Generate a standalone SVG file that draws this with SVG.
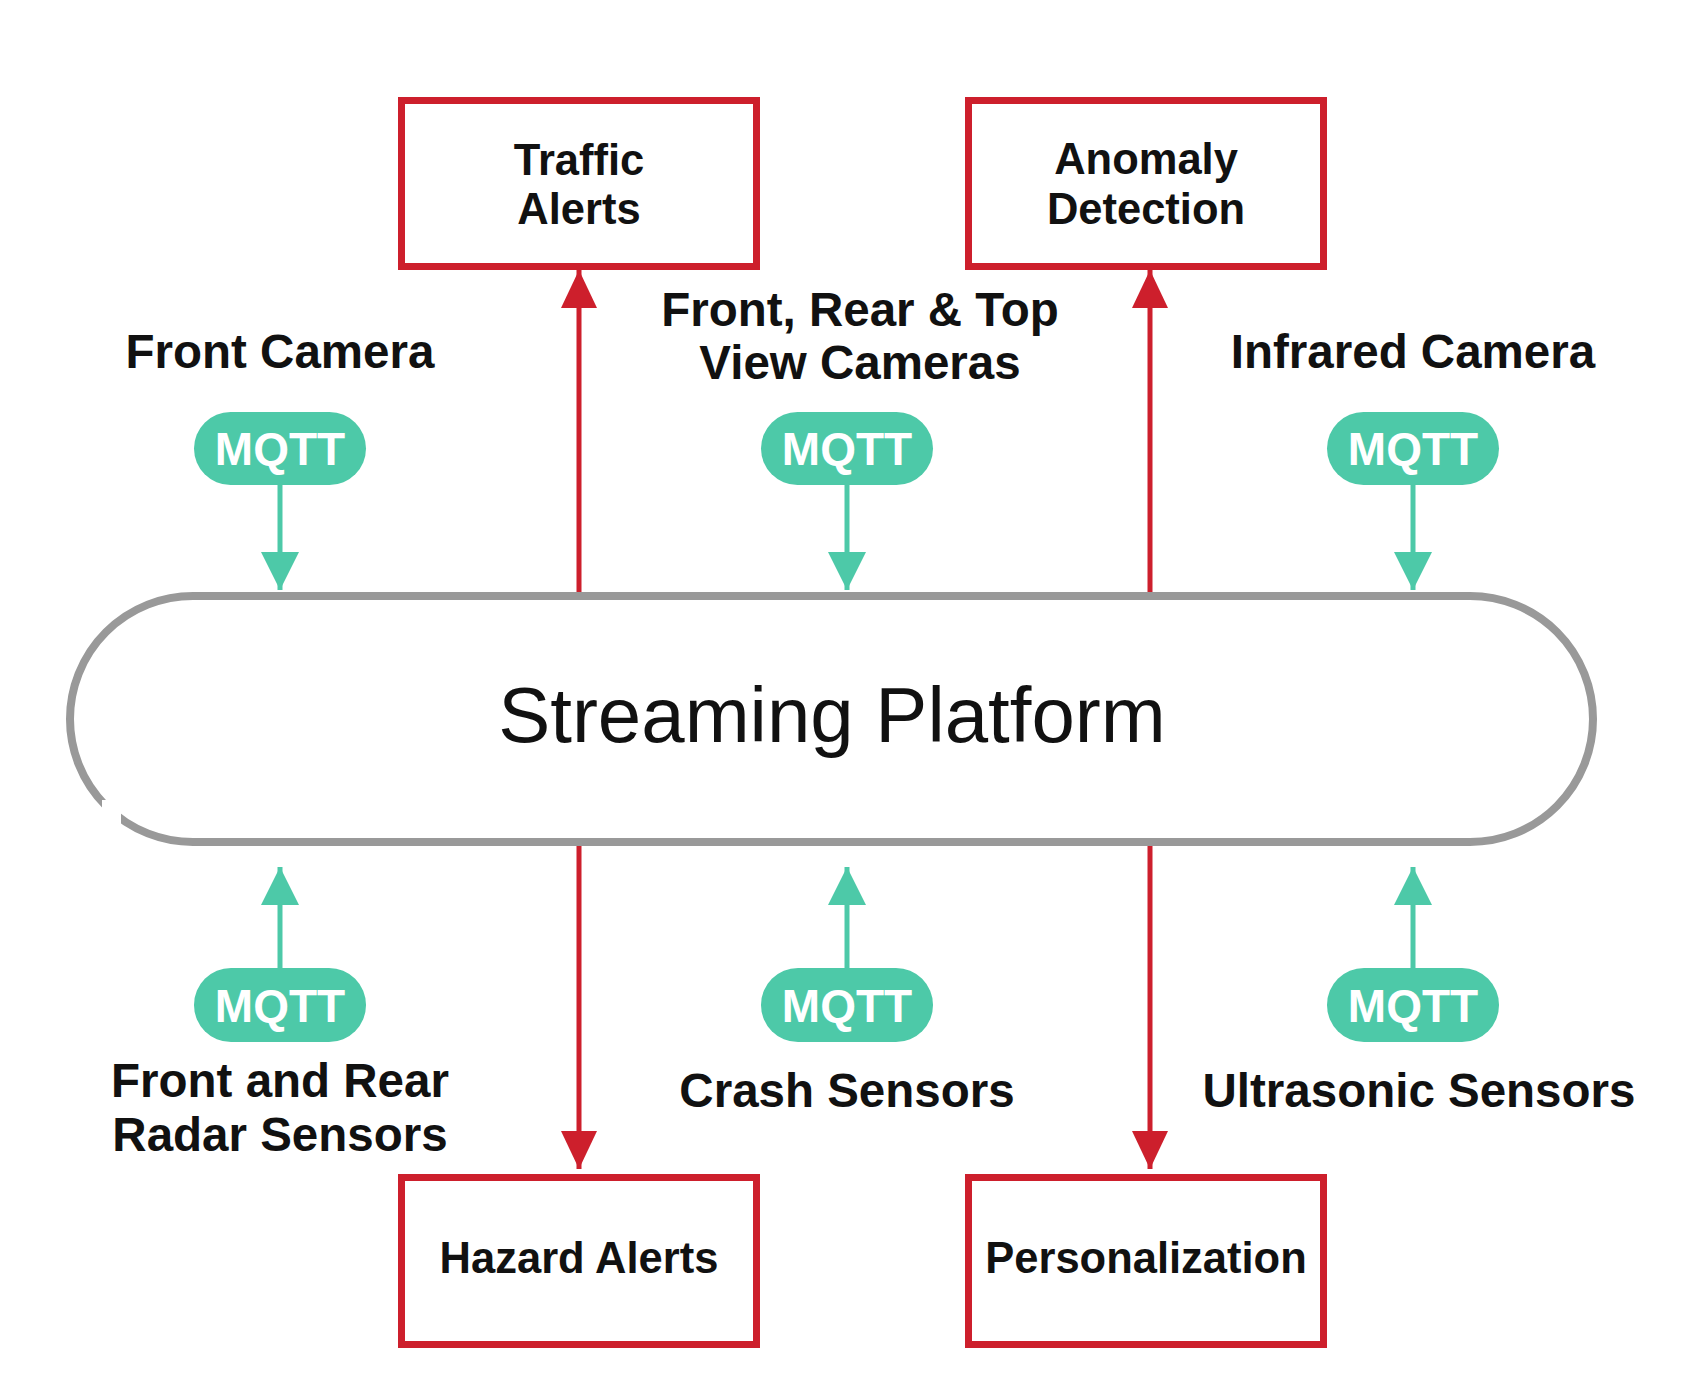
<svg xmlns="http://www.w3.org/2000/svg" width="1694" height="1382" viewBox="0 0 1694 1382">
<defs>
<style>
.box{fill:#fff;stroke:#CD1F2C;stroke-width:7}
.lbl{font-family:"Liberation Sans",Arial,sans-serif;font-weight:bold;font-size:47.5px;fill:#111;text-anchor:middle}
.btx{font-family:"Liberation Sans",Arial,sans-serif;font-weight:bold;font-size:43.5px;fill:#111;text-anchor:middle}
.pill{fill:#4DC9A8}
.mq{font-family:"Liberation Sans",Arial,sans-serif;font-weight:bold;font-size:46px;fill:#fff;text-anchor:middle}
.g{stroke:#4DC9A8;stroke-width:5;fill:none}
.r{stroke:#CD1F2C;stroke-width:5;fill:none}
</style>
<marker id="ga" markerUnits="userSpaceOnUse" markerWidth="38" markerHeight="38" refX="38" refY="19" orient="auto" viewBox="0 0 38 38"><path d="M0,0 L38,19 L0,38 Z" fill="#4DC9A8"/></marker>
<marker id="ra" markerUnits="userSpaceOnUse" markerWidth="38" markerHeight="38" refX="38" refY="19" orient="auto" viewBox="0 0 38 38"><path d="M0,1 L38,19 L0,37 Z" fill="#CD1F2C"/></marker>
</defs>
<rect width="1694" height="1382" fill="#fff"/>
<g id="connectors">
<line class="g" x1="280" y1="485" x2="280" y2="590" marker-end="url(#ga)"/>
<line class="g" x1="847" y1="485" x2="847" y2="590" marker-end="url(#ga)"/>
<line class="g" x1="1413" y1="485" x2="1413" y2="590" marker-end="url(#ga)"/>
<line class="g" x1="280" y1="968" x2="280" y2="867" marker-end="url(#ga)"/>
<line class="g" x1="847" y1="968" x2="847" y2="867" marker-end="url(#ga)"/>
<line class="g" x1="1413" y1="968" x2="1413" y2="867" marker-end="url(#ga)"/>
<line class="r" x1="579" y1="596" x2="579" y2="270" marker-end="url(#ra)"/>
<line class="r" x1="1150" y1="596" x2="1150" y2="270" marker-end="url(#ra)"/>
<line class="r" x1="579" y1="842" x2="579" y2="1169" marker-end="url(#ra)"/>
<line class="r" x1="1150" y1="842" x2="1150" y2="1169" marker-end="url(#ra)"/>
</g>
<g id="platform">
<rect x="70" y="596" width="1523" height="246" rx="123" ry="123" fill="#fff" stroke="#999" stroke-width="8"/>
<rect x="102" y="800" width="19" height="24" fill="#fff"/>
<text x="832" y="742" font-family="'Liberation Sans',Arial,sans-serif" font-size="78" fill="#111" text-anchor="middle">Streaming Platform</text>
</g>
<g id="traffic-alerts">
<rect class="box" x="401.5" y="100.5" width="355" height="166"/>
<text class="btx" x="579" y="175">Traffic</text>
<text class="btx" x="579" y="224">Alerts</text>
</g>
<g id="anomaly-detection">
<rect class="box" x="968.5" y="100.5" width="355" height="166"/>
<text class="btx" x="1146" y="174">Anomaly</text>
<text class="btx" x="1146" y="224">Detection</text>
</g>
<g id="hazard-alerts">
<rect class="box" x="401.5" y="1177.5" width="355" height="167"/>
<text class="btx" x="579" y="1273">Hazard Alerts</text>
</g>
<g id="personalization">
<rect class="box" x="968.5" y="1177.5" width="355" height="167"/>
<text class="btx" x="1146" y="1273">Personalization</text>
</g>
<g id="front-camera">
<text class="lbl" x="280" y="368">Front Camera</text>
<rect class="pill" x="194" y="412" width="172" height="73" rx="36.5"/>
<text class="mq" x="280" y="465">MQTT</text>
</g>
<g id="view-cameras">
<text class="lbl" x="860" y="326">Front, Rear &amp; Top</text>
<text class="lbl" x="860" y="379">View Cameras</text>
<rect class="pill" x="761" y="412" width="172" height="73" rx="36.5"/>
<text class="mq" x="847" y="465">MQTT</text>
</g>
<g id="infrared-camera">
<text class="lbl" x="1413" y="368">Infrared Camera</text>
<rect class="pill" x="1327" y="412" width="172" height="73" rx="36.5"/>
<text class="mq" x="1413" y="465">MQTT</text>
</g>
<g id="radar-sensors">
<rect class="pill" x="194" y="968" width="172" height="74" rx="37"/>
<text class="mq" x="280" y="1022">MQTT</text>
<text class="lbl" x="280" y="1097">Front and Rear</text>
<text class="lbl" x="280" y="1151">Radar Sensors</text>
</g>
<g id="crash-sensors">
<rect class="pill" x="761" y="968" width="172" height="74" rx="37"/>
<text class="mq" x="847" y="1022">MQTT</text>
<text class="lbl" x="847" y="1107">Crash Sensors</text>
</g>
<g id="ultrasonic-sensors">
<rect class="pill" x="1327" y="968" width="172" height="74" rx="37"/>
<text class="mq" x="1413" y="1022">MQTT</text>
<text class="lbl" x="1419" y="1107">Ultrasonic Sensors</text>
</g>
</svg>
